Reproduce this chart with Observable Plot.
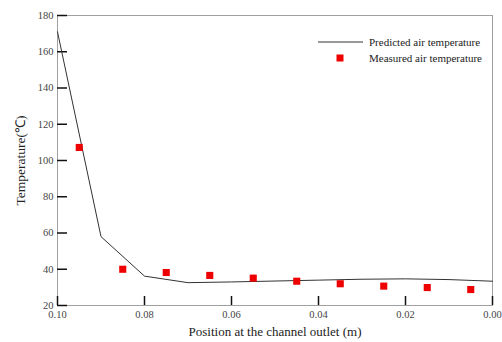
<!DOCTYPE html>
<html>
<head>
<meta charset="utf-8">
<script src="https://cdn.jsdelivr.net/npm/d3@7"></script>
<script src="https://cdn.jsdelivr.net/npm/@observablehq/plot@0.6"></script>
<style>
  html, body { margin: 0; padding: 0; background: #fff; }
  #chart svg, #chart svg text { font-family: 'Liberation Serif', 'Times New Roman', serif !important; font-variant: normal !important; }
</style>
</head>
<body>
<div id="chart"></div>
<script>
// Predicted air temperature (line)
const predPos = [0.10, 0.09, 0.08, 0.07, 0.06, 0.05, 0.04, 0.03, 0.02, 0.01, 0.00];
const predTemp = [171, 58, 36.2, 32.6, 33.0, 33.5, 34.0, 34.5, 34.7, 34.3, 33.4];
// Measured air temperature (squares)
const measPos = [0.095, 0.085, 0.075, 0.065, 0.055, 0.045, 0.035, 0.025, 0.015, 0.005];
const measTemp = [107.2, 40.0, 38.2, 36.6, 35.1, 33.4, 32.0, 30.7, 29.9, 28.8];
// Ticks
const xTicks = [0.10, 0.08, 0.06, 0.04, 0.02, 0.00];
const yTicks = [20, 40, 60, 80, 100, 120, 140, 160, 180];
const xLabel = "Position at the channel outlet (m)";
const yLabel = "Temperature(\u2103)";
const seriesNames = ["Predicted air temperature", "Measured air temperature"];

const pred = predPos.map((p, i) => ({pos: p, temp: predTemp[i]}));
const meas = measPos.map((p, i) => ({pos: p, temp: measTemp[i]}));

const serif = "'Liberation Serif', 'Times New Roman', serif";

const plot = Plot.plot({
  width: 502,
  height: 342,
  marginLeft: 57,
  marginRight: 10,
  marginTop: 15,
  marginBottom: 37,
  style: {fontFamily: serif, fontSize: "10.5px", color: "#444", background: "#fff"},
  x: {domain: [0.10, 0.00]},
  y: {domain: [20, 180]},
  marks: [
    Plot.frame({stroke: "#a0a0a0", strokeWidth: 1}),
    // tick labels
    Plot.axisX({ticks: xTicks, tickSize: 0, tickPadding: 5, tickFormat: d3.format(".2f"), label: null, fontFamily: serif}),
    Plot.axisY({ticks: yTicks, tickSize: 0, tickPadding: 4, label: null, fontFamily: serif}),
    // inward tick marks
    Plot.axisX({ticks: xTicks, tickSize: 9, dy: -9, fill: "none", stroke: "#111", strokeWidth: 1.5, label: null}),
    Plot.axisY({ticks: yTicks, tickSize: 10, dx: 10, fill: "none", stroke: "#111", strokeWidth: 1.5, label: null}),
    // axis titles
    Plot.text([xLabel], {frameAnchor: "bottom", dy: 30, text: d => d, fontSize: 13, fill: "#222", fontFamily: serif}),
    Plot.text([yLabel], {frameAnchor: "left", dx: -37, rotate: -90, textAnchor: "middle", text: d => d, fontSize: 13.5, fill: "#222", fontFamily: serif}),
    // data
    Plot.line(pred, {x: "pos", y: "temp", stroke: "#333", strokeWidth: 1}),
    Plot.dot(meas, {x: "pos", y: "temp", symbol: "square", r: 4, fill: "#ee0000", stroke: "none"})
  ]
});

document.getElementById("chart").appendChild(plot);

// legend drawn inside the plot area
const svg = d3.select(plot);
const lg = svg.append("g")
  .attr("font-family", serif)
  .attr("font-size", 11)
  .attr("text-anchor", "start")
  .attr("fill", "#222");
lg.append("line").attr("x1", 318).attr("x2", 363).attr("y1", 42).attr("y2", 42)
  .attr("stroke", "#333").attr("stroke-width", 1);
lg.append("text").attr("x", 369).attr("y", 42).attr("dy", "0.35em").attr("text-anchor", "start").text(seriesNames[0]);
lg.append("rect").attr("x", 336.5).attr("y", 54.5).attr("width", 7).attr("height", 7).attr("fill", "#ee0000");
lg.append("text").attr("x", 369).attr("y", 58).attr("dy", "0.35em").attr("text-anchor", "start").text(seriesNames[1]);
</script>
</body>
</html>
